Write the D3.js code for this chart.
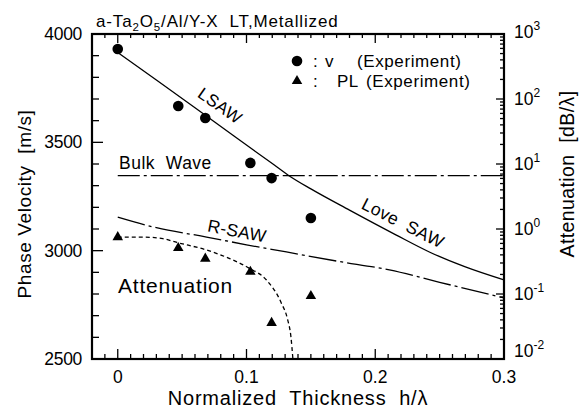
<!DOCTYPE html>
<html><head><meta charset="utf-8">
<script src="https://cdn.jsdelivr.net/npm/d3@7"></script>
<style>body{margin:0;background:#fff}svg{display:block}text{font-family:"Liberation Sans",Arial,sans-serif;fill:#000}</style>
</head><body><svg id="c" width="587" height="408"></svg>
<script>
// ---- data ----
const xTickLabels = ["0","0.1","0.2","0.3"];
const xTickValues = [0,0.1,0.2,0.3];
const yLeftTicks = [2500,3000,3500,4000];
const yRightTicks = [0.01,0.1,1,10,100,1000];
const yRightExp = ["-2","-1","0","1","2","3"];
// experimental phase velocity (m/s)
const vExpX = [0,0.047,0.068,0.103,0.1195,0.150];
const vExpY = [3931,3668,3612,3405,3335,3151];
// experimental propagation loss (dB/lambda)
const plExpX = [0,0.047,0.068,0.103,0.1195,0.150];
const plExpY = [0.75,0.51,0.35,0.22,0.036,0.093];
// LSAW -> Love SAW theory (m/s)
const lsawX = [0,0.03,0.06,0.09,0.12,0.133,0.15,0.18,0.216,0.242,0.27,0.3];
const lsawY = [3915,3788,3660,3530,3402,3346,3285,3187,3073,2994,2925,2865];
// bulk wave (m/s)
const bulkX = [0,0.3];
const bulkY = [3346,3346];
// R-SAW theory (m/s)
const rsawX = [0,0.03,0.069,0.1,0.131,0.17,0.211,0.25,0.3];
const rsawY = [3155,3106,3063,3027,2994,2952,2911,2854,2782];
// attenuation theory (dB/lambda)
const attX = [0,0.02,0.035,0.046,0.069,0.087,0.102,0.1155,0.127,0.132,0.1345,0.136];
const attY = [0.75,0.75,0.71,0.62,0.475,0.35,0.25,0.164,0.073,0.040,0.022,0.0102];

// ---- layout ----
const L=92,R=504,T=34,B=359;
const svg=d3.select("#c");
const x=d3.scaleLinear([-0.02,0.3],[L,R]);
const y=d3.scaleLinear([2500,4000],[B,T]);
const yr=d3.scaleLog([0.01,1000],[B,T]);
const zip=(a,b)=>a.map((v,i)=>[v,b[i]]);

// ticks
const g=svg.append("g").attr("stroke","#000").attr("stroke-width",1.3);
d3.range(-0.02,0.3001,0.01).forEach(v=>{
  const major=Math.abs(Math.round(v*10)-v*10)<1e-6;
  const len=major?10:5;
  g.append("line").attr("x1",x(v)).attr("x2",x(v)).attr("y1",B).attr("y2",B-len);
  g.append("line").attr("x1",x(v)).attr("x2",x(v)).attr("y1",T).attr("y2",T+(major?9:4));
});
d3.range(2500,4001,100).forEach(v=>{
  const major=v%500===0;
  g.append("line").attr("x1",L).attr("x2",L+(major?11:7)).attr("y1",y(v)).attr("y2",y(v));
});
yr.ticks().forEach(v=>{
  const e=Math.log10(v);
  const major=Math.abs(e-Math.round(e))<1e-9;
  g.append("line").attr("x1",R).attr("x2",R-(major?8:4)).attr("y1",yr(v)).attr("y2",yr(v));
});
// frame
svg.append("rect").attr("x",L).attr("y",T).attr("width",R-L).attr("height",B-T)
  .attr("fill","none").attr("stroke","#000").attr("stroke-width",2.2);

// tick labels
svg.append("g").selectAll("text").data(xTickValues).join("text")
  .attr("x",d=>x(d)).attr("y",383).attr("text-anchor","middle").attr("font-size",17.5)
  .text((d,i)=>xTickLabels[i]);
svg.append("g").selectAll("text").data(yLeftTicks).join("text")
  .attr("x",82).attr("y",d=>y(d)+6).attr("text-anchor","end").attr("font-size",17.5)
  .attr("letter-spacing",-0.3).text(d=>d);
const rt=svg.append("g").selectAll("text").data(yRightTicks).join("text")
  .attr("x",514).attr("y",(d,i)=>yr(d)+6-(i===0?8:0)-(i===5?2:0)).attr("font-size",17.5);
rt.append("tspan").text("10");
rt.append("tspan").attr("dy",-8).attr("font-size",12).text((d,i)=>yRightExp[i]);

// axis titles
svg.append("text").attr("transform","translate(31,204) rotate(-90)").attr("text-anchor","middle")
  .attr("font-size",19).attr("letter-spacing",0.6).attr("xml:space","preserve").text("Phase Velocity  [m/s]");
svg.append("text").attr("transform","translate(574,174) rotate(-90)").attr("text-anchor","middle")
  .attr("font-size",19.5).attr("letter-spacing",0.4).attr("xml:space","preserve").text("Attenuation  [dB/\u03bb]");
svg.append("text").attr("x",298).attr("y",405).attr("text-anchor","middle")
  .attr("font-size",20).attr("letter-spacing",0.8).attr("xml:space","preserve").text("Normalized  Thickness  h/\u03bb");

// title
const tt=svg.append("text").attr("x",96).attr("y",27).attr("font-size",17).attr("letter-spacing",0.85);
tt.append("tspan").text("a-Ta");
tt.append("tspan").attr("dy",4).attr("font-size",11.5).text("2");
tt.append("tspan").attr("dy",-4).text("O");
tt.append("tspan").attr("dy",4).attr("font-size",11.5).text("5");
tt.append("tspan").attr("dy",-4).attr("xml:space","preserve").text("/Al/Y-X  LT,Metallized");

// curves
const lineV=d3.line().x(d=>x(d[0])).y(d=>y(d[1])).curve(d3.curveMonotoneX);
const lineA=d3.line().x(d=>x(d[0])).y(d=>yr(d[1])).curve(d3.curveMonotoneX);
svg.append("path").attr("d",lineV(zip(lsawX,lsawY))).attr("fill","none").attr("stroke","#000").attr("stroke-width",1.3);
svg.append("path").attr("d",lineV(zip(bulkX,bulkY))).attr("fill","none").attr("stroke","#000").attr("stroke-width",1.3).attr("stroke-dasharray","22,4,3,4");
svg.append("path").attr("d",lineV(zip(rsawX,rsawY))).attr("fill","none").attr("stroke","#000").attr("stroke-width",1.3).attr("stroke-dasharray","28,4,3,4");
svg.append("path").attr("d",lineA(zip(attX,attY))).attr("fill","none").attr("stroke","#000").attr("stroke-width",1.3).attr("stroke-dasharray","4,3");

// markers
svg.append("g").selectAll("circle").data(zip(vExpX,vExpY)).join("circle")
  .attr("cx",d=>x(d[0])).attr("cy",d=>y(d[1])).attr("r",5.3).attr("fill","#000");
const tri=d3.symbol().type(d3.symbolTriangle).size(48);
svg.append("g").selectAll("path").data(zip(plExpX,plExpY)).join("path")
  .attr("transform",d=>`translate(${x(d[0])},${yr(d[1])})`).attr("d",tri).attr("fill","#000");

// legend
svg.append("circle").attr("cx",297).attr("cy",61).attr("r",5.3).attr("fill","#000");
svg.append("path").attr("transform","translate(297,81)").attr("d",tri).attr("fill","#000");
const lg=[["v","(Experiment)",67,325,357],["PL","(Experiment)",87,337,366]];
lg.forEach(r=>{
  svg.append("text").attr("x",313).attr("y",r[2]).attr("font-size",17).text(":");
  svg.append("text").attr("x",r[3]).attr("y",r[2]).attr("font-size",17).attr("letter-spacing",0.4).text(r[0]);
  svg.append("text").attr("x",r[4]).attr("y",r[2]).attr("font-size",17).attr("letter-spacing",0.6).text(r[1]);
});

// in-plot labels
svg.append("text").attr("x",119).attr("y",169).attr("font-size",17.5).attr("letter-spacing",0.5).attr("xml:space","preserve").text("Bulk  Wave");
svg.append("text").attr("x",118).attr("y",293).attr("font-size",21).attr("letter-spacing",0.8).text("Attenuation");
svg.append("text").attr("transform","translate(220,106) rotate(35)").attr("text-anchor","middle").attr("dominant-baseline","central").attr("font-size",17).attr("letter-spacing",0.5).text("LSAW");
svg.append("text").attr("transform","translate(237,231) rotate(11)").attr("text-anchor","middle").attr("dominant-baseline","central").attr("font-size",17.5).attr("letter-spacing",0.3).text("R-SAW");
svg.append("text").attr("transform","translate(403,223) rotate(27)").attr("text-anchor","middle").attr("dominant-baseline","central").attr("font-size",17.5).attr("letter-spacing",0.3).attr("xml:space","preserve").text("Love  SAW");
</script></body></html>
